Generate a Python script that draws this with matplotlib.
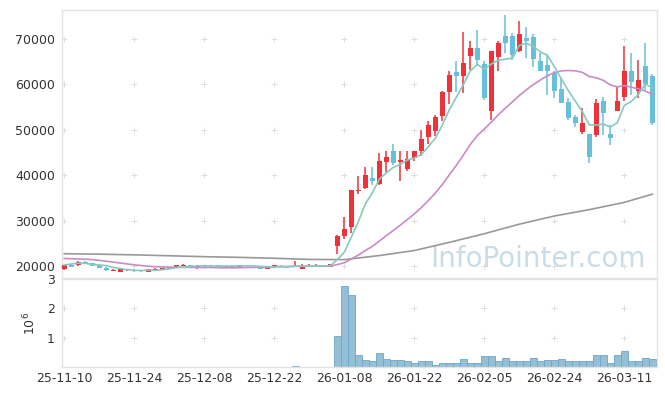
import numpy as np
import pandas as pd
import matplotlib
matplotlib.use('Agg')
import matplotlib.pyplot as plt

# 일봉 데이터 (25-11-10 ~ 26-03-17, 85 거래일)
opens = [19400, 20300, 20150, 20850, 20660, 20220, 19630, 18950, 18750, 18880,
         18900, 18900, 18750, 19200, 19270, 19340, 19560, 20100, 20150, 19450,
         20150, 19900, 20150, 19850, 19850, 19850, 20050, 20000, 19780, 19350,
         19700, 20050, 20000, 19850, 19400, 19900, 19900, 19900, 19800, 24400,
         26650, 28650, 36600, 37100, 39450, 38100, 42950, 45300, 42800, 41300,
         43700, 45300, 48300, 49800, 53000, 58350, 62700, 61700, 66100, 68000,
         64500, 54200, 65900, 70600, 70600, 67400, 70160, 70400, 65200, 64200,
         62400, 58940, 56000, 52700, 49500, 49000, 48800, 56400, 49000, 54000,
         57250, 62800, 58400, 64000, 61800]
highs = [20300, 20500, 21100, 21050, 20700, 20300, 19700, 19250, 19450, 19100,
         19300, 19000, 19400, 19500, 19650, 19850, 20200, 20400, 20250, 20150,
         20250, 20150, 20250, 20100, 20100, 20200, 20150, 20100, 19850, 19750,
         20200, 20150, 20100, 21200, 20500, 20350, 20400, 20100, 20450, 26800,
         30700, 36800, 39700, 41700, 41870, 44800, 45400, 46800, 45400, 45400,
         45400, 49960, 51800, 53300, 58600, 62800, 65000, 71500, 69400, 72000,
         65000, 67300, 69400, 75200, 71200, 74000, 72600, 71000, 66800, 66400,
         62800, 61300, 56900, 53200, 54700, 49000, 56700, 57100, 51000, 59300,
         68400, 66800, 65300, 69000, 62300]
lows = [19200, 19700, 20100, 20600, 20000, 19500, 19000, 18850, 18700, 18800,
        18750, 18700, 18700, 19100, 19200, 19300, 19500, 20000, 19800, 19400,
        19850, 19850, 19900, 19800, 19800, 19800, 19900, 19900, 19300, 19250,
        19650, 19900, 19850, 19800, 19350, 19850, 19850, 19850, 19750, 22640,
        25900, 27200, 35850, 37000, 37800, 37800, 40650, 42300, 38800, 41000,
        43000, 44100, 46800, 48700, 52000, 55600, 58350, 58000, 63100, 63900,
        56500, 52100, 62800, 66800, 65300, 67000, 65700, 63850, 63000, 57600,
        56900, 55800, 52100, 50650, 49000, 42700, 48450, 48800, 46600, 54000,
        56200, 57600, 56900, 58700, 51000]
closes = [20150, 19750, 20880, 20750, 20070, 19630, 19050, 19000, 19400, 18920,
          18850, 18850, 19350, 19270, 19560, 19780, 20150, 20150, 19850, 20070,
          19900, 20000, 19950, 20050, 20050, 20150, 19950, 19950, 19400, 19700,
          20150, 19950, 19900, 20050, 19950, 19950, 20050, 19950, 20400, 26650,
          28150, 36740, 36740, 40000, 38800, 43100, 43980, 42600, 43300, 43570,
          45300, 47900, 51000, 52700, 58200, 62000, 61700, 64760, 68000, 65300,
          56900, 67200, 69000, 69100, 66400, 71000, 69560, 65500, 63000, 62800,
          58600, 55900, 52600, 51400, 51400, 43900, 55800, 53600, 48100, 56300,
          62800, 60400, 61000, 60000, 51400]
# 거래량 (단위 10^6)
volume = [0.004] * 33 + [0.05, 0.004, 0.004, 0.004, 0.004, 0.004,
          1.07, 2.76, 2.46, 0.42, 0.25, 0.22, 0.48, 0.27, 0.25, 0.25,
          0.19, 0.15, 0.22, 0.22, 0.085, 0.15, 0.15, 0.12, 0.27, 0.15,
          0.15, 0.36, 0.36, 0.22, 0.32, 0.22, 0.22, 0.22, 0.32, 0.19,
          0.25, 0.25, 0.29, 0.22, 0.19, 0.19, 0.19, 0.42, 0.42, 0.15,
          0.42, 0.56, 0.19, 0.22, 0.32, 0.29]

# 이동평균 (앞부분은 이전 데이터로 계산된 값이라 그림에서 읽음)
ma5_head = [20220, 20440, 20600, 20600]
ma20_head = [21650, 21600, 21550, 21480, 21400, 21250, 21050, 20850, 20650, 20450,
             20250, 20100, 19950, 19850, 19800, 19750, 19720, 19700, 19700]
ma120_idx = [0, 5, 10, 15, 20, 25, 30, 35, 40, 45, 50, 55, 60, 65, 70, 75, 80, 84]
ma120_val = [22700, 22600, 22450, 22250, 22050, 21900, 21700, 21450, 21400, 22300,
             23400, 25200, 27100, 29200, 31000, 32400, 34000, 35800]

tick_idx = [0, 10, 20, 30, 40, 50, 60, 70, 80]
tick_labels = ['25-11-10', '25-11-24', '25-12-08', '25-12-22', '26-01-08',
               '26-01-22', '26-02-05', '26-02-24', '26-03-11']
price_ticks = [20000, 30000, 40000, 50000, 60000, 70000]
vol_ticks = [1, 2, 3]

RED = '#ee3239'
BLUE = '#67c0db'
FRAME = '#e3e3e3'

x = np.arange(len(closes))
o = np.array(opens)
c = np.array(closes)
s = pd.Series(closes, dtype=float)
ma5 = s.rolling(5).mean().to_numpy()
ma5[:4] = ma5_head
ma20 = s.rolling(20).mean().to_numpy()
ma20[:19] = ma20_head

fig = plt.figure(figsize=(6.65, 3.96), dpi=100)
ax = fig.add_axes([0.0928, 0.298, 0.8952, 0.6767])
axv = fig.add_axes([0.0928, 0.0732, 0.8952, 0.2223], sharex=ax)

# 그리드 (교차점에 + 표시)
gx, gy = np.meshgrid(tick_idx, price_ticks)
ax.scatter(gx.ravel(), gy.ravel(), marker='+', s=14, c='#dadada', linewidths=0.6, zorder=0)
gx, gy = np.meshgrid(tick_idx, vol_ticks[:2])
axv.scatter(gx.ravel(), gy.ravel(), marker='+', s=14, c='#dadada', linewidths=0.6, zorder=0)

ax.text(0.80, 0.042, 'InfoPointer.com', transform=ax.transAxes, ha='center',
        va='baseline', fontsize=20, color='#c9dce7', zorder=1)

# 캔들
up = c >= o
colors = np.where(up, RED, BLUE)
ax.vlines(x, lows, highs, colors=colors, linewidth=1.1, zorder=3)
body = np.maximum(np.abs(c - o), 120)
ax.bar(x, body, bottom=np.minimum(o, c), width=0.72, color=colors, zorder=3)

ax.plot(ma120_idx, ma120_val, color='#999999', lw=1.2, zorder=4)
ax.plot(x, ma20, color='#c98bc6', lw=1.2, zorder=4)
ax.plot(x, ma5, color='#86cabf', lw=1.2, zorder=4)

ax.set_xlim(-0.37, 84.67)
ax.set_ylim(17360, 76320)
ax.set_yticks(price_ticks)
ax.tick_params(axis='x', labelbottom=False, length=0)
ax.tick_params(axis='y', length=0, pad=5, labelsize=9, labelcolor='#333333')

# 거래량
axv.bar(x, volume, width=1.0, color='#95bfd5', edgecolor='#6ea6c8', linewidth=0.6, zorder=2)
axv.set_ylim(0, 3.0)
axv.set_yticks(vol_ticks)
axv.set_xticks(tick_idx)
axv.set_xticklabels(tick_labels)
axv.tick_params(axis='both', length=0, labelsize=9, labelcolor='#333333')
axv.tick_params(axis='y', pad=5)
axv.set_ylabel(r'$10^6$', fontsize=9, color='#333333', labelpad=6)

for a in (ax, axv):
    for sp in a.spines.values():
        sp.set_color(FRAME)
        sp.set_linewidth(1.0)

plt.savefig('out.png', dpi=100)
